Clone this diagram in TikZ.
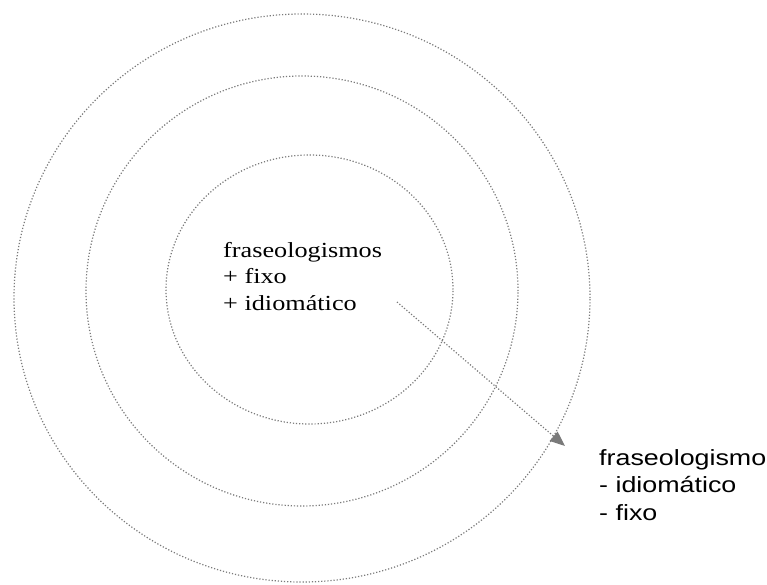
\documentclass[tikz,border=0pt]{standalone}
\usepackage{fontspec}
\setmainfont{Liberation Serif}
\newfontfamily\arialfont{Liberation Sans}
\usetikzlibrary{arrows.meta}
\definecolor{dotgray}{HTML}{7A7A7A}
\tikzset{
  ring/.style={draw=dotgray, line width=1.2pt, dash pattern=on 1.2pt off 1.9pt},
  flow/.style={draw=dotgray, line width=1.2pt, dash pattern=on 1.2pt off 1.9pt,
    -{Triangle[length=15pt,width=12pt,fill=dotgray]}},
  serifbox/.style={inner sep=0pt, anchor=base west, align=left,
    font=\fontsize{21.5}{26.5}\selectfont},
  sansbox/.style={inner sep=0pt, anchor=base west, align=left,
    font=\arialfont\fontsize{22}{27.5}\selectfont}
}
\begin{document}
\begin{tikzpicture}[x=1pt,y=-1pt]
\useasboundingbox (0,0) rectangle (767,585);
\fill[white] (0,0) rectangle (767,585);
% rings
\draw[ring] (302,298) ellipse [x radius=288pt, y radius=284pt];
\draw[ring] (302,291) ellipse [x radius=216pt, y radius=215pt];
\draw[ring] (309.5,289.5) ellipse [x radius=143.5pt, y radius=134.5pt];
% texts (base anchor = baseline of the last line)
\node[serifbox] (inner) at (223,310) {\scalebox{1.22}[1]{fraseologismos}\\\scalebox{1.22}[1]{+ fixo}\\\scalebox{1.22}[1]{+ idiom\'atico}};
\node[sansbox] (outer) at (599,520) {\scalebox{1.22}[1]{fraseologismo}\\\scalebox{1.22}[1]{- idiom\'atico}\\\scalebox{1.22}[1]{- fixo}};
% arrow
\coordinate (from) at (397,302);
\coordinate (to) at (565,446);
\draw[flow] (from) -- (to);
\end{tikzpicture}
\end{document}
